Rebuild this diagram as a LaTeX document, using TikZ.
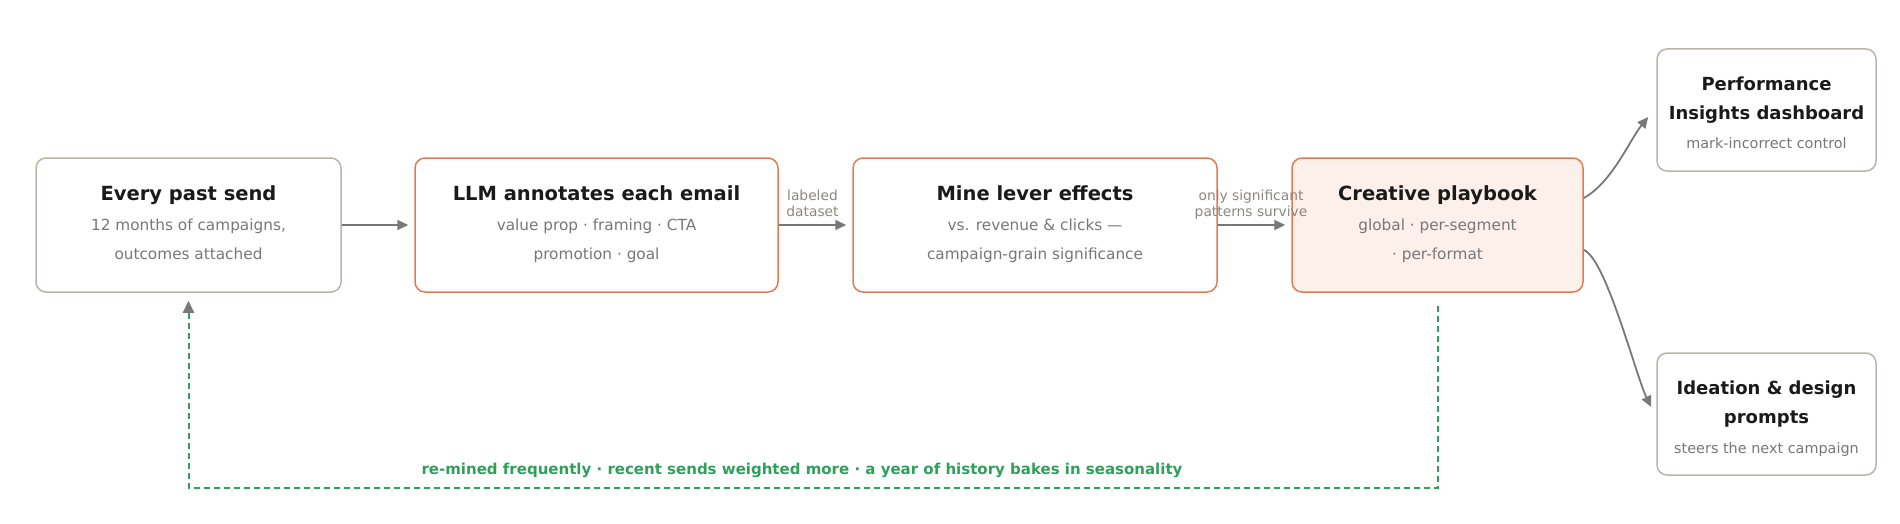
\documentclass[tikz,border=0pt]{standalone}
\usepackage{fontspec}
\setmainfont{DejaVu Sans}
\usetikzlibrary{arrows.meta}

\definecolor{ink}{HTML}{1A1A1A}
\definecolor{subgrey}{HTML}{777777}
\definecolor{notegrey}{HTML}{8A877C}
\definecolor{plainedge}{HTML}{B8B5A8}
\definecolor{hotedge}{HTML}{E07B54}
\definecolor{hotfill}{HTML}{FCF0EB}
\definecolor{wiregrey}{HTML}{787878}
\definecolor{loopgreen}{HTML}{2EA05A}

\tikzset{
  box/.style={draw=plainedge, line width=1.5pt, rounded corners=10pt, inner sep=0pt},
  hotbox/.style={box, draw=hotedge},
  ttl/.style={anchor=base, text=ink, font=\fontsize{19.5}{23}\selectfont\bfseries},
  smallttl/.style={ttl, font=\fontsize{18}{22}\selectfont\bfseries},
  sub/.style={anchor=base, text=subgrey, font=\fontsize{15.3}{18}\selectfont},
  smallsub/.style={anchor=base, text=subgrey, font=\fontsize{14.4}{17}\selectfont},
  note/.style={anchor=base, text=notegrey, font=\fontsize{13.8}{16}\selectfont},
  flow/.style={draw=wiregrey, line width=1.8pt, -{Triangle[length=11pt, width=10pt]}},
  loopback/.style={draw=loopgreen, line width=2pt, dash pattern=on 6pt off 4pt,
    -{Triangle[length=12pt, width=11pt, color=wiregrey]}}
}

\begin{document}
\begin{tikzpicture}[x=1pt, y=-1pt]
    \useasboundingbox (0,0) rectangle (1900,524);

    % Pipeline boxes
    \node[box, minimum width=305pt, minimum height=134pt] (send) at (188.5,225) {};
    \node[ttl] (sendT) at (188.5,200) {Every past send};
    \node[sub] (sendA) at (188.5,230) {12 months of campaigns,};
    \node[sub] (sendB) at (188.5,259) {outcomes attached};

    \node[hotbox, minimum width=363pt, minimum height=134pt] (annot) at (596.5,225) {};
    \node[ttl] (annotT) at (596.5,200) {LLM annotates each email};
    \node[sub] (annotA) at (596.5,230) {value prop · framing · CTA};
    \node[sub] (annotB) at (596.5,259) {promotion · goal};

    \node[hotbox, minimum width=364pt, minimum height=134pt] (mine) at (1035,225) {};
    \node[ttl] (mineT) at (1035,200) {Mine lever effects};
    \node[sub] (mineA) at (1035,230) {vs. revenue \& clicks —};
    \node[sub] (mineB) at (1035,259) {campaign-grain significance};

    \node[hotbox, fill=hotfill, minimum width=291pt, minimum height=134pt] (play) at (1437.5,225) {};
    \node[ttl] (playT) at (1437.5,200) {Creative playbook};
    \node[sub] (playA) at (1437.5,230) {global · per-segment};
    \node[sub] (playB) at (1437.5,259) {· per-format};

    % Outputs
    \node[box, minimum width=219pt, minimum height=122pt] (perf) at (1766.5,110) {};
    \node[smallttl] (perfT) at (1766.5,90.5) {Performance};
    \node[smallttl] (perfU) at (1766.5,119.5) {Insights dashboard};
    \node[smallsub] (perfA) at (1766.5,149) {mark-incorrect control};

    \node[box, minimum width=219pt, minimum height=122pt] (ideas) at (1766.5,414) {};
    \node[smallttl] (ideasT) at (1766.5,394.5) {Ideation \& design};
    \node[smallttl] (ideasU) at (1766.5,423.5) {prompts};
    \node[smallsub] (ideasA) at (1766.5,453) {steers the next campaign};

    % Connectors
    \draw[flow, shorten >=6pt] (send) -- (annot);
    \draw[flow, shorten >=6pt] (annot) -- (mine);
    \draw[flow, shorten >=6pt] (mine) -- (play);
    \node[note] (labA) at (812.5,200.5) {labeled};
    \node[note] (labB) at (812.5,216.5) {dataset};
    \node[note] (sigA) at (1251,200.5) {only significant};
    \node[note] (sigB) at (1251,216.5) {patterns survive};

    \draw[flow] ([yshift=27pt]play.east)
        .. controls +(28,-15) and +(-18,22) .. ([xshift=-8pt,yshift=-7pt]perf.west);
    \draw[flow] ([yshift=-25pt]play.east)
        .. controls +(22,8) and +(-15,-30) .. ([xshift=-5pt,yshift=7pt]ideas.west);

    % Feedback loop
    \draw[loopback] ([yshift=-13pt]play.south) -- ++(0,182) -| ([yshift=-8pt]send.south);
    \node[anchor=base, text=loopgreen, font=\fontsize{15}{18}\selectfont\bfseries] (loopT) at (802,474.5)
        {re-mined frequently · recent sends weighted more · a year of history bakes in seasonality};
\end{tikzpicture}
\end{document}
